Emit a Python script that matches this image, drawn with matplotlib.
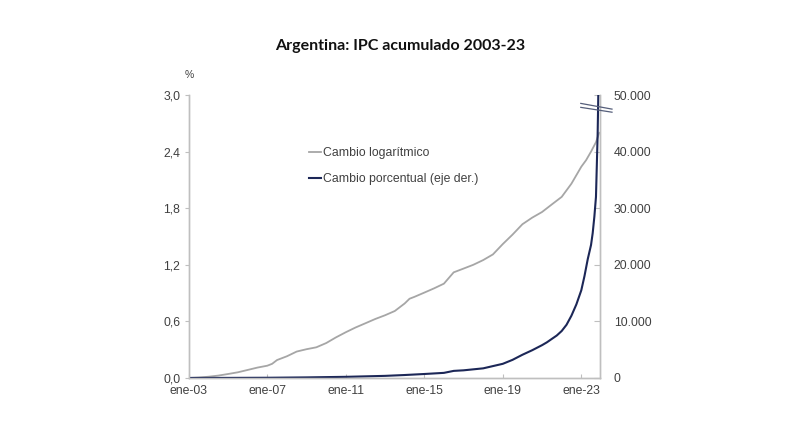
import numpy as np
import matplotlib.pyplot as plt
import matplotlib.ticker as mticker
import pandas as pd

plt.rcParams['font.family'] = ['Liberation Sans', 'DejaVu Sans']

# cambio logaritmico (eje izq.)
log_fechas = ["2003-01", "2003-07", "2004-01", "2004-07", "2005-01", "2005-07",
              "2006-01", "2006-07", "2007-01", "2007-04", "2007-07", "2008-01",
              "2008-07", "2009-01", "2009-07", "2010-01", "2010-07", "2011-01",
              "2011-07", "2012-01", "2012-07", "2013-01", "2013-07", "2014-01",
              "2014-04", "2014-07", "2015-01", "2015-07", "2016-01", "2016-04",
              "2016-07", "2017-01", "2017-07", "2018-01", "2018-07", "2019-01",
              "2019-07", "2020-01", "2020-07", "2021-01", "2021-07", "2022-01",
              "2022-07", "2023-01", "2023-04", "2023-07", "2023-10", "2023-12"]
log_valores = [0.0, 0.005, 0.013, 0.025, 0.042, 0.06,
               0.085, 0.11, 0.13, 0.15, 0.19, 0.23,
               0.28, 0.305, 0.325, 0.37, 0.43, 0.485,
               0.535, 0.58, 0.625, 0.665, 0.71, 0.79,
               0.84, 0.86, 0.905, 0.95, 1.0, 1.06,
               1.12, 1.16, 1.2, 1.25, 1.31, 1.42,
               1.52, 1.63, 1.7, 1.76, 1.84, 1.92,
               2.06, 2.24, 2.31, 2.4, 2.5, 2.6]

# cambio porcentual (eje der.)
pct_fechas = ["2003-01", "2005-01", "2007-01", "2009-01", "2011-01", "2013-01",
              "2014-01", "2015-01", "2016-01", "2016-07", "2017-01", "2018-01",
              "2019-01", "2019-07", "2020-01", "2020-07", "2021-01", "2021-04",
              "2021-07", "2021-10", "2022-01", "2022-04", "2022-07", "2022-10",
              "2023-01", "2023-03", "2023-05", "2023-07", "2023-08", "2023-09",
              "2023-10", "2023-11", "2023-12"]
pct_valores = [0, 12, 35, 100, 200, 370,
               520, 700, 900, 1250, 1350, 1700,
               2500, 3200, 4100, 4900, 5800, 6300,
               6900, 7500, 8300, 9400, 11000, 13000,
               15500, 18000, 21000, 23500, 25600, 28500,
               32000, 43000, 60000]

x_ticks = ["2003-01", "2007-01", "2011-01", "2015-01", "2019-01", "2023-01"]
x_labels = ["ene-03", "ene-07", "ene-11", "ene-15", "ene-19", "ene-23"]

gris = "#a6a6a6"
azul = "#1c2757"
eje = "#bfbfbf"
texto = "#404040"

fig = plt.figure(figsize=(8, 4.4), dpi=100)
ax = fig.add_axes([0.236, 0.141, 0.514, 0.643])
ax2 = ax.twinx()

l1, = ax.plot(pd.to_datetime(log_fechas), log_valores, color=gris, lw=1.3,
              label="Cambio logarítmico")
l2, = ax2.plot(pd.to_datetime(pct_fechas), pct_valores, color=azul, lw=1.5,
               label="Cambio porcentual (eje der.)")

ax.set_xlim(pd.Timestamp("2003-01-01"), pd.Timestamp("2023-12-15"))
ax.set_ylim(0, 3.0)
ax2.set_ylim(0, 50000)
ax.set_yticks(np.arange(0, 3.01, 0.6))
ax2.set_yticks(np.arange(0, 50001, 10000))
ax.yaxis.set_major_formatter(mticker.FuncFormatter(lambda v, p: f"{v:.1f}".replace(".", ",")))
ax2.yaxis.set_major_formatter(mticker.FuncFormatter(lambda v, p: f"{v:,.0f}".replace(",", ".")))
ax.set_xticks(pd.to_datetime(x_ticks))
ax.set_xticklabels(x_labels)

for a in (ax, ax2):
    a.spines["top"].set_visible(False)
    for s in ("left", "right", "bottom"):
        a.spines[s].set_color(eje)
        a.spines[s].set_linewidth(1.0)
ax.tick_params(axis="y", direction="out", length=3, color=eje, labelsize=8.8,
               labelcolor=texto, pad=3)
ax.tick_params(axis="x", direction="in", length=3, color=eje, labelsize=8.8,
               labelcolor=texto, pad=5)
ax2.tick_params(axis="y", direction="in", length=4, color=eje, labelsize=8.8,
                labelcolor=texto, pad=10)

fig.text(0.5, 0.895, "Argentina: IPC acumulado 2003-23", ha="center", va="center",
         fontsize=11.5, fontweight="bold", family=["Lato", "DejaVu Sans"], color="#111111")
fig.text(0.236, 0.83, "%", ha="center", va="center", fontsize=7.5, color=texto)

ax.legend(handles=[l1, l2], loc="upper left", bbox_to_anchor=(0.372, 0.69),
          bbox_transform=fig.transFigure, frameon=False, fontsize=8.8,
          handlelength=1.0, handletextpad=0.2, labelspacing=1.1, labelcolor=texto)

# marcas de corte del eje
for y0, y1 in [(0.765, 0.752), (0.756, 0.745)]:
    fig.add_artist(plt.Line2D([0.726, 0.765], [y0, y1], color="#555e7a", lw=0.9))

fig.savefig("out.png", dpi=100)
